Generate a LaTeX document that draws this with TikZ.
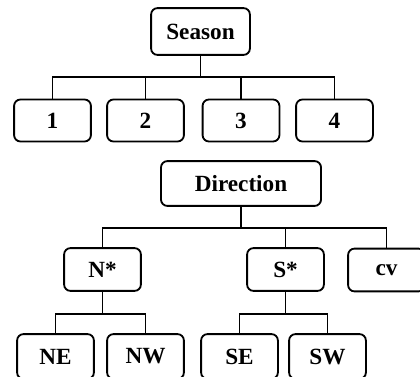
\documentclass[tikz,border=0pt]{standalone}
\usepackage{fontspec}
\setmainfont{Liberation Serif}

\begin{document}

\begin{tikzpicture}[x = 0.025cm, y = -0.025cm, line width = 1.3pt,
	box/.style = {draw, rounded corners = 0.16cm, inner sep = 0pt, minimum height = 1.05cm, font = \fontsize{16.5}{19}\selectfont\bfseries},
	leaf/.style = {box, minimum width = 1.92cm}]

	% Frame
	
	\clip (0, 0) rectangle (420, 376);
	
	% Season tree
	
	\node [box, minimum width = 2.47cm, minimum height = 1.17cm] (season) at (200.5, 31.5) {Season};
	
	\node [leaf] (s1) at (52.5, 120.5) {1};
	\node [leaf] (s2) at (145.5, 120.5) {2};
	\node [leaf] (s3) at (241, 120.5) {3};
	\node [leaf] (s4) at (334.5, 120.5) {4};
	
	\coordinate (sbus) at (200.5, 77);
	
	\foreach \c in {s1, s2, s3, s4}
		\draw (season.south) -- (sbus) -| (\c.north);
		
	% Direction tree
	
	\node [box, minimum width = 4cm, minimum height = 1.12cm] (direction) at (241, 183.5) {Direction};
	
	\node [leaf, minimum height = 1.07cm] (nstar) at (102.5, 269.5) {N*};
	\node [leaf, minimum height = 1.07cm] (sstar) at (285.5, 269.5) {S*};
	\node [leaf, minimum height = 1.07cm] (cv) at (386.5, 270) {cv};
	
	\coordinate (dbus) at (241, 228);
	
	\foreach \c in {nstar, sstar, cv}
		\draw (direction.south) -- (dbus) -| (\c.north);
		
	% Leaves of N* and S*
	
	\node [leaf, minimum height = 1.12cm] (ne) at (55.5, 356.5) {NE};
	\node [leaf, minimum height = 1.12cm] (nw) at (145.5, 356.5) {NW};
	\node [leaf, minimum height = 1.12cm] (se) at (239.5, 356.5) {SE};
	\node [leaf, minimum height = 1.12cm] (sw) at (327.5, 356.5) {SW};
	
	\coordinate (nbus) at (102.5, 314);
	\coordinate (sbusb) at (285.5, 314);
	
	\foreach \c in {ne, nw}
		\draw (nstar.south) -- (nbus) -| (\c.north);
		
	\foreach \c in {se, sw}
		\draw (sstar.south) -- (sbusb) -| (\c.north);

\end{tikzpicture}

\end{document}
